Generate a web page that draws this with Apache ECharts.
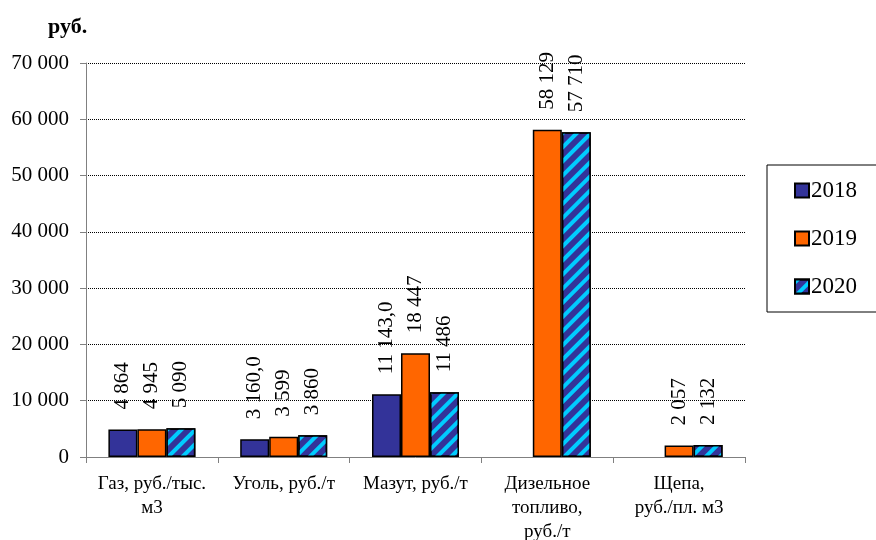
<!DOCTYPE html>
<html><head><meta charset="utf-8">
<script src="https://cdn.jsdelivr.net/npm/echarts@6/dist/echarts.min.js"></script>
<style>html,body{margin:0;padding:0;background:#fff}#c{width:876px;height:540px}</style>
</head><body><div id="c"></div>
<script>
const categories = ["Газ, руб./тыс.\nм3", "Уголь, руб./т", "Мазут, руб./т", "Дизельное\nтопливо,\nруб./т", "Щепа,\nруб./пл. м3"];
const years = ["2018", "2019", "2020"];
const v2018 = [4864, 3160, 11143, null, null];
const v2019 = [4945, 3599, 18447, 58129, 2057];
const v2020 = [5090, 3860, 11486, 57710, 2132];
const l2018 = ["4 864", "3 160,0", "11 143,0", "", ""];
const l2019 = ["4 945", "3 599", "18 447", "58 129", "2 057"];
const l2020 = ["5 090", "3 860", "11 486", "57 710", "2 132"];
const yTicks = [0, 10000, 20000, 30000, 40000, 50000, 60000, 70000];

const FONT = "Liberation Serif";
function fmt(v){ return String(v).replace(/\B(?=(\d{3})+(?!\d))/g, " "); }
function mkSeries(name, vals, labels, style){
  return {
    name, type: 'bar', barGap: '0%', barCategoryGap: '34%',
    data: vals.map((v,i)=>({value:v, label:{formatter: labels[i]}})),
    itemStyle: Object.assign({borderColor:'#000', borderWidth:1.5}, style),
    label: {show:true, position:'top', rotate:90, align:'left', verticalAlign:'middle', distance:20,
      fontFamily:FONT, fontSize:21, color:'#000'}
  };
}
const chart = echarts.init(document.getElementById('c'));
chart.setOption({
  animation:false,
  textStyle:{fontFamily:FONT},
  graphic:[{type:'text', left:48, top:16, style:{text:'руб.', font:'bold 22px "Liberation Serif"', fill:'#000'}}],
  grid:{left:86, right:131, top:63, bottom:83, outerBoundsMode:'none', containLabel:false},
  legend:{orient:'vertical', left:767, top:165, width:160, height:143, padding:[14,40,14,27], itemGap:25,
    borderColor:'#000', borderWidth:1, itemWidth:14, itemHeight:14, icon:'rect',
    textStyle:{fontFamily:FONT, fontSize:23, color:'#000', padding:[0,0,0,-3]},
    data: years},
  xAxis:{type:'category', data:categories,
    axisLine:{lineStyle:{color:'#808080', width:1}},
    axisTick:{show:true, alignWithLabel:false, length:6, lineStyle:{color:'#808080'}},
    axisLabel:{fontFamily:FONT, fontSize:19, color:'#000', lineHeight:24, margin:15, interval:0}},
  yAxis:{type:'value', min:0, max:70000, interval:10000,
    axisLine:{show:true, lineStyle:{color:'#808080', width:1}},
    axisTick:{show:true, length:6, lineStyle:{color:'#808080'}},
    splitLine:{lineStyle:{color:'#000', type:[1,1], width:1}},
    axisLabel:{fontFamily:FONT, fontSize:21, color:'#000', margin:17, formatter:(v)=> yTicks.includes(v)? fmt(v):''}},
  series:[
    mkSeries('2018', v2018, l2018, {color:'#333399'}),
    mkSeries('2019', v2019, l2019, {color:'#FF6600'}),
    mkSeries('2020', v2020, l2020, {color:'#333399', decal:{symbol:'rect', symbolSize:1, color:'#00CCFF', dashArrayX:[1,0], dashArrayY:[4,6], rotation:-Math.PI/4}})
  ]
});
</script></body></html>
